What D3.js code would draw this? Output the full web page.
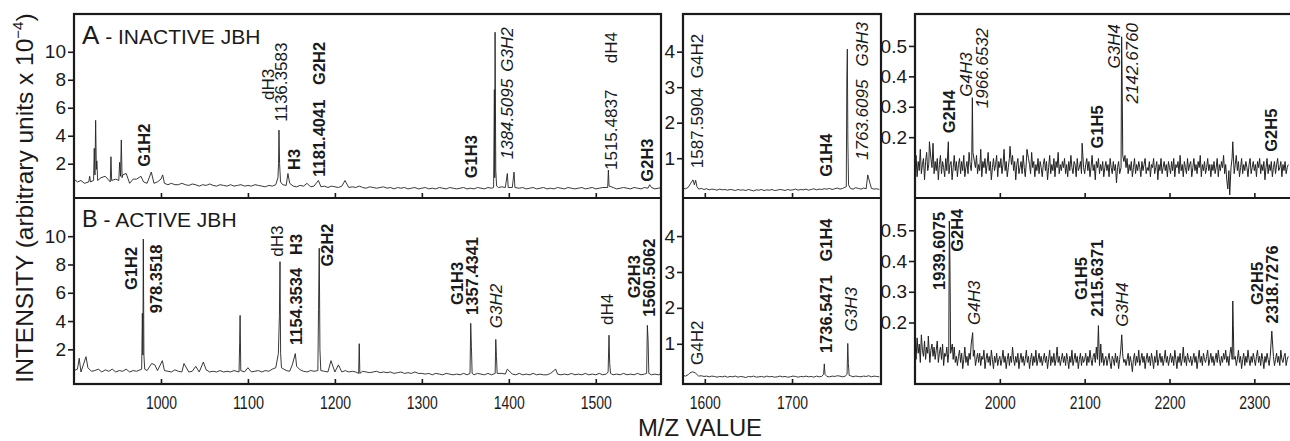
<!DOCTYPE html>
<html>
<head>
<meta charset="utf-8">
<script src="https://cdn.jsdelivr.net/npm/d3@7"></script>
<style>
  body { margin: 0; background: #fff; }
  svg { display: block; font-family: "Liberation Sans", Arial, sans-serif; }
</style>
</head>
<body>
<script>
// ---- data ----
// tick values
var mzTicksLeft = [1000, 1100, 1200, 1300, 1400, 1500];
var mzTicksMid = [1600, 1700];
var mzTicksRight = [2000, 2100, 2200, 2300];
var yTicksLeft = [2, 4, 6, 8, 10];
var yTicksMid = [1, 2, 3, 4];
var yTicksRight = [0.2, 0.3, 0.4, 0.5];

// baseline sampling grid (m/z start, step) for each m/z window
var leftStart = 900, leftStep = 4;
var midStart = 1575, midStep = 3;
var rightStart = 1900, rightStep = 1.25;

// baseline (noise) intensities, panel A - inactive
var inactiveLeftBase = [
  0.9, 0.7, 0.8, 0.6, 0.8, 1.0, 0.7, 0.8, 0.9, 0.6,
  0.8, 0.7, 0.9, 0.7, 0.6, 0.8, 0.6, 0.7, 0.9, 0.6,
  0.7, 0.6, 0.8, 0.6, 0.7, 0.9, 0.6, 0.5, 0.6, 0.5,
  0.5, 0.6, 0.5, 0.45, 0.55, 0.5, 0.4, 0.5, 0.45, 0.55,
  0.45, 0.4, 0.5, 0.45, 0.4, 0.5, 0.4, 0.45, 0.5, 0.4,
  0.45, 0.4, 0.5, 0.45, 0.4, 0.35, 0.45, 0.4, 0.5, 0.6,
  0.5, 0.45, 0.6, 0.4, 0.35, 0.45, 0.4, 0.5, 0.35, 0.4,
  0.45, 0.35, 0.4, 0.3, 0.4, 0.35, 0.3, 0.4, 0.35, 0.3,
  0.35, 0.3, 0.4, 0.3, 0.25, 0.35, 0.3, 0.25, 0.3, 0.35,
  0.25, 0.3, 0.2, 0.3, 0.25, 0.3, 0.2, 0.25, 0.3, 0.2,
  0.25, 0.3, 0.2, 0.25, 0.2, 0.3, 0.25, 0.2, 0.3, 0.25,
  0.2, 0.25, 0.3, 0.2, 0.25, 0.2, 0.3, 0.25, 0.2, 0.3,
  0.25, 0.3, 0.3, 0.35, 0.3, 0.25, 0.3, 0.2, 0.25, 0.3,
  0.2, 0.25, 0.3, 0.2, 0.25, 0.3, 0.2, 0.25, 0.2, 0.3,
  0.25, 0.2, 0.3, 0.25, 0.2, 0.25, 0.3, 0.2, 0.25, 0.3,
  0.2, 0.25, 0.3, 0.2, 0.25, 0.3, 0.2, 0.25, 0.3, 0.25,
  0.2, 0.3, 0.25, 0.2, 0.3, 0.25, 0.3, 0.2, 0.25, 0.3
];
var inactiveMidBase = [
  .16, .14, .18, .20, .17, .15, .13, .15, .12, .14,
  .11, .13, .12, .10, .13, .11, .12, .10, .12, .11,
  .09, .12, .10, .11, .09, .12, .10, .08, .11, .10,
  .12, .09, .11, .10, .12, .09, .10, .12, .11, .09,
  .12, .10, .11, .13, .10, .12, .11, .13, .10, .12,
  .14, .11, .13, .12, .14, .13, .15, .12, .14, .16,
  .13, .15, .14, .16, .15, .13, .17, .15, .13, .16,
  .14, .12, .15, .13, .14, .12
];
var inactiveRightBase = [
  .10, .14, .07, .12, .09, .16, .08, .11, .13, .06, .12, .15, .09, .11, .07, .13, .10, .18, .08, .12,
  .09, .13, .06, .11, .14, .08, .12, .10, .07, .13, .09, .15, .08, .11, .12, .06, .10, .14, .09, .12,
  .07, .11, .13, .08, .12, .09, .14, .07, .10, .12, .08, .15, .11, .09, .13, .07, .12, .10, .14, .08,
  .11, .09, .16, .07, .12, .10, .13, .08, .11, .15, .09, .12, .06, .10, .13, .09, .11, .14, .07, .12,
  .10, .13, .08, .11, .16, .09, .12, .07, .10, .13, .08, .11, .14, .09, .12, .06, .11, .13, .08, .10,
  .12, .08, .14, .10, .07, .12, .09, .13, .11, .08, .15, .10, .12, .07, .11, .09, .13, .08, .12, .10,
  .07, .11, .13, .09, .12, .06, .10, .14, .08, .11, .09, .13, .07, .12, .10, .15, .08, .11, .09, .12,
  .10, .13, .08, .11, .07, .12, .09, .14, .10, .08, .12, .11, .07, .13, .09, .10, .12, .08, .14, .10,
  .08, .11, .13, .09, .12, .07, .10, .14, .09, .11, .06, .12, .10, .13, .08, .11, .09, .12, .07, .10,
  .12, .09, .11, .07, .13, .10, .08, .12, .09, .11, .05, .10, .12, .08, .11, .13, .09, .12, .14, .10,
  .13, .08, .11, .09, .12, .07, .10, .13, .08, .11, .09, .12, .10, .07, .12, .09, .11, .13, .08, .10,
  .09, .12, .07, .11, .10, .13, .08, .10, .12, .06, .11, .09, .13, .08, .10, .12, .09, .11, .07, .12,
  .10, .08, .12, .09, .13, .07, .11, .10, .12, .08, .14, .09, .11, .07, .12, .10, .08, .13, .09, .11,
  .12, .07, .10, .13, .09, .11, .08, .12, .10, .14, .07, .11, .09, .12, .08, .10, .13, .09, .11, .07,
  .11, .09, .12, .08, .10, .13, .07, .11, .09, .12, .10, .14, .08, .11, .06, .03, .09, .12, .10, .13,
  .12, .08, .11, .14, .09, .12, .07, .10, .13, .08, .11, .09, .12, .10, .07, .11, .13, .08, .10, .12,
  .09, .11, .07, .12, .10, .13, .08, .11, .09, .12, .06, .10, .13, .08, .11, .09, .12, .07, .10, .12,
  .08, .11, .13, .09, .10, .12, .07, .11, .09, .12, .08, .10, .11
];

// baseline (noise) intensities, panel B - active
var activeLeftBase = [
  0.5, 0.6, 0.4, 0.5, 0.7, 0.45, 0.5, 0.6, 0.4, 0.55,
  0.45, 0.6, 0.4, 0.5, 0.45, 0.6, 0.4, 0.5, 0.45, 0.55,
  0.4, 0.5, 0.45, 0.6, 0.5, 0.4, 0.5, 0.45, 0.4, 0.55,
  0.45, 0.4, 0.5, 0.4, 0.45, 0.5, 0.4, 0.45, 0.55, 0.4,
  0.45, 0.4, 0.5, 0.4, 0.45, 0.4, 0.5, 0.4, 0.45, 0.4,
  0.5, 0.4, 0.45, 0.5, 0.4, 0.5, 0.45, 0.6, 0.7, 0.8,
  0.6, 0.5, 0.45, 0.5, 0.4, 0.55, 0.45, 0.4, 0.5, 0.45,
  0.4, 0.5, 0.45, 0.4, 0.5, 0.4, 0.45, 0.4, 0.5, 0.4,
  0.45, 0.4, 0.35, 0.45, 0.4, 0.35, 0.4, 0.45, 0.35, 0.4,
  0.35, 0.4, 0.3, 0.35, 0.4, 0.3, 0.35, 0.3, 0.4, 0.3,
  0.3, 0.25, 0.3, 0.2, 0.3, 0.25, 0.2, 0.3, 0.25, 0.2,
  0.25, 0.2, 0.3, 0.2, 0.25, 0.2, 0.3, 0.25, 0.2, 0.3,
  0.2, 0.25, 0.2, 0.3, 0.25, 0.2, 0.25, 0.2, 0.3, 0.2,
  0.25, 0.2, 0.3, 0.2, 0.25, 0.2, 0.2, 0.3, 0.2, 0.25,
  0.2, 0.25, 0.2, 0.3, 0.2, 0.25, 0.2, 0.3, 0.2, 0.25,
  0.2, 0.3, 0.2, 0.25, 0.3, 0.2, 0.25, 0.2, 0.3, 0.2,
  0.25, 0.2, 0.3, 0.2, 0.25, 0.3, 0.2, 0.25, 0.2, 0.3
];
var activeMidBase = [
  .12, .10, .14, .13, .11, .12, .10, .11, .09, .10,
  .08, .10, .09, .07, .09, .08, .10, .07, .09, .08,
  .10, .07, .09, .08, .06, .09, .08, .10, .07, .08,
  .09, .07, .10, .08, .09, .07, .08, .10, .08, .09,
  .07, .08, .10, .09, .07, .09, .08, .10, .08, .09,
  .07, .10, .08, .09, .11, .09, .08, .10, .09, .11,
  .10, .08, .10, .09, .11, .08, .10, .09, .08, .10,
  .09, .11, .08, .10, .09, .08
];
var activeRightBase = [
  .12, .08, .15, .10, .13, .07, .16, .11, .09, .14, .08, .12, .10, .15, .07, .11, .13, .09, .12, .08,
  .11, .14, .07, .10, .12, .08, .13, .06, .10, .09, .12, .07, .09, .11, .06, .10, .08, .12, .07, .09,
  .06, .09, .11, .07, .10, .05, .08, .12, .07, .09, .06, .10, .08, .13, .07, .09, .11, .06, .08, .10,
  .07, .10, .06, .09, .08, .11, .05, .08, .10, .07, .09, .06, .11, .08, .05, .09, .07, .10, .06, .08,
  .09, .06, .08, .11, .07, .09, .05, .08, .10, .06, .09, .07, .12, .08, .06, .09, .07, .10, .05, .08,
  .10, .07, .09, .06, .08, .11, .07, .09, .05, .08, .10, .06, .09, .07, .11, .06, .08, .10, .07, .09,
  .06, .08, .10, .07, .09, .05, .08, .11, .06, .09, .07, .10, .06, .08, .12, .07, .09, .06, .08, .10,
  .07, .09, .06, .10, .08, .05, .09, .07, .11, .06, .08, .10, .07, .09, .05, .08, .10, .06, .09, .07,
  .08, .10, .06, .09, .07, .11, .08, .06, .09, .10, .07, .12, .08, .10, .06, .09, .07, .10, .06, .08,
  .09, .06, .08, .10, .07, .05, .09, .08, .06, .10, .07, .09, .05, .08, .11, .06, .09, .07, .08, .06,
  .08, .10, .06, .09, .07, .04, .08, .10, .06, .09, .07, .11, .06, .08, .10, .07, .09, .05, .08, .10,
  .07, .09, .06, .10, .08, .05, .09, .07, .11, .06, .08, .10, .07, .09, .06, .08, .11, .07, .09, .06,
  .08, .10, .07, .09, .06, .11, .08, .05, .09, .07, .10, .06, .08, .12, .07, .09, .06, .10, .08, .07,
  .09, .06, .08, .10, .07, .09, .05, .08, .11, .07, .09, .06, .10, .08, .07, .09, .11, .06, .08, .10,
  .07, .09, .06, .08, .10, .07, .11, .08, .06, .09, .07, .10, .08, .11, .07, .09, .06, .10, .12, .08,
  .10, .07, .09, .06, .08, .11, .07, .09, .05, .08, .10, .06, .09, .07, .11, .08, .06, .09, .07, .10,
  .08, .06, .09, .11, .07, .09, .06, .10, .08, .05, .09, .07, .10, .08, .06, .09, .11, .07, .09, .06,
  .08, .10, .07, .09, .06, .11, .08, .07, .09, .10, .06, .08, .09
];

// peak points [m/z, intensity]
var inactiveLeftPeaks = [
  [917, 0.7], [918, 1.1], [919, 0.7],
  [922.5, 0.8], [923.3, 3.1], [924.1, 1.2], [924.9, 5.1], [925.7, 1.6], [926.3, 2.2], [927.2, 0.8],
  [931, 1.0], [936, 1.1],
  [941.7, 0.7], [942.5, 2.5], [943.3, 0.8],
  [951.5, 0.8], [952.5, 2.1], [953.5, 1.1], [954.4, 3.7], [955.3, 1.0], [956, 1.2],
  [960, 1.3], [968, 0.9], [977, 1.1], [988.9, 1.4], [1002, 1.2],
  [1134.5, 1.0], [1135.2, 2.0], [1135.7, 4.4], [1136.4, 2.0], [1137.5, 0.7],
  [1146, 1.3], [1168, 0.6], [1181, 0.8], [1211.6, 0.8],
  [1382.5, 0.3], [1383.4, 7.3], [1383.8, 1.0], [1384.2, 11.4], [1385, 1.5], [1386, 0.4],
  [1398.3, 1.3], [1399.3, 0.3], [1406, 1.4], [1407, 0.3],
  [1513.7, 0.3], [1514.5, 1.55], [1515.3, 0.4],
  [1562, 0.5]
];
var inactiveMidPeaks = [
  [1584, 0.3], [1586.5, 0.39], [1588, 0.25], [1589.5, 0.38], [1591, 0.2],
  [1762.2, 0.2], [1762.8, 3.2], [1763.4, 4.07], [1764, 1.5], [1764.8, 0.25],
  [1786.8, 0.53]
];
var inactiveRightPeaks = [
  [1917, 0.185], [1939.3, 0.185],
  [1966.9, 0.12], [1967.6, 0.33], [1968.3, 0.15],
  [2012, 0.17], [2032, 0.16], [2097, 0.18],
  [2142.9, 0.1], [2143.6, 0.53], [2144.1, 0.40], [2144.9, 0.14],
  [2271, 0.01], [2274.6, 0.185]
];
var activeLeftPeaks = [
  [906, 1.37], [913.8, 1.48],
  [977.8, 0.6], [978.6, 4.55], [979.2, 1.6], [979.7, 9.8], [980.4, 1.6], [981.3, 0.6],
  [989.3, 1.0], [993, 0.9], [1001.6, 1.2], [1026.5, 1.0], [1040, 0.8], [1048.7, 1.1],
  [1089.8, 0.4], [1090.5, 2.5], [1091, 4.4], [1091.8, 0.5], [1100, 0.7],
  [1135, 1.7], [1136.2, 4.4], [1136.9, 8.2], [1137.6, 1.7], [1138.6, 0.7],
  [1151, 0.9], [1154.5, 1.7], [1156, 0.8],
  [1180.4, 0.5], [1181.2, 4.8], [1182, 9.15], [1182.8, 2.0], [1183.8, 0.5],
  [1195.5, 1.2], [1204, 0.9],
  [1227.3, 0.3], [1228, 2.4], [1228.7, 0.3],
  [1355.4, 0.3], [1356.2, 3.84], [1357, 2.2], [1357.8, 0.3],
  [1384.3, 0.3], [1385, 2.7], [1385.8, 1.5], [1386.6, 0.3],
  [1398.3, 0.6], [1453.9, 0.6],
  [1514.2, 0.4], [1515.2, 3.0], [1516, 1.0], [1517, 0.3],
  [1558.5, 0.3], [1559.3, 3.7], [1560.2, 2.6], [1561, 0.3]
];
var activeMidPeaks = [
  [1583, 0.19], [1586, 0.22], [1589, 0.19],
  [1736.2, 0.15], [1737, 0.44], [1737.8, 0.15],
  [1763.1, 0.15], [1763.9, 1.01], [1764.6, 0.45], [1765.5, 0.12]
];
var activeRightPeaks = [
  [1915.7, 0.156],
  [1939.8, 0.1], [1940.5, 0.53], [1941.2, 0.39], [1942, 0.1], [1944, 0.13],
  [1968, 0.167], [2116.2, 0.19], [2119, 0.13], [2143.7, 0.16],
  [2273.9, 0.08], [2274.6, 0.27], [2275.2, 0.19], [2276, 0.08],
  [2320.6, 0.172], [2321.2, 0.146]
];

// peak annotations: [window, m/z, intensity at text start, text, style]
var inactiveLabels = [
  ['left', 987.4, 1.79, 'G1H2', 'b'],
  ['left', 1130.0, 6.55, 'dH3', 'r'],
  ['left', 1144.9, 5.00, '1136.3583', 'r'],
  ['left', 1159.9, 1.55, 'H3', 'b'],
  ['left', 1188.6, 1.07, '1181.4041', 'b'],
  ['left', 1188.6, 7.63, 'G2H2', 'b'],
  ['left', 1363.4, 0.96, 'G1H3', 'b'],
  ['left', 1405.2, 2.32, '1384.5095', 'i'],
  ['left', 1405.2, 8.58, 'G3H2', 'i'],
  ['left', 1524.1, 1.55, '1515.4837', 'r'],
  ['left', 1524.1, 9.18, 'dH4', 'r'],
  ['left', 1566.2, 0.72, 'G2H3', 'b'],
  ['mid', 1598.3, 0.72, '1587.5904', 'r'],
  ['mid', 1598.3, 3.25, 'G4H2', 'r'],
  ['mid', 1745.5, 0.48, 'G1H4', 'b'],
  ['mid', 1787.4, 0.95, '1763.6095', 'i'],
  ['mid', 1787.4, 3.58, 'G3H3', 'i'],
  ['right', 1947.1, 0.213, 'G2H4', 'b'],
  ['right', 1966.8, 0.333, 'G4H3', 'i'],
  ['right', 1986.4, 0.295, '1966.6532', 'i'],
  ['right', 2121.9, 0.163, 'G1H5', 'b'],
  ['right', 2141.6, 0.426, 'G3H4', 'i'],
  ['right', 2163.2, 0.311, '2142.6760', 'i'],
  ['right', 2326.3, 0.152, 'G2H5', 'b']
];
var activeLabels = [
  ['left', 972.8, 6.20, 'G1H2', 'b'],
  ['left', 1000.8, 4.55, '978.3518', 'b'],
  ['left', 1140.7, 8.55, 'dH3', 'r'],
  ['left', 1161.8, 8.67, 'H3', 'b'],
  ['left', 1161.8, 2.31, '1154.3534', 'b'],
  ['left', 1198.2, 7.85, 'G2H2', 'b'],
  ['left', 1347.7, 5.14, 'G1H3', 'b'],
  ['left', 1364.9, 4.43, '1357.4341', 'b'],
  ['left', 1391.8, 3.49, 'G3H2', 'i'],
  ['left', 1520.1, 3.72, 'dH4', 'r'],
  ['left', 1550.9, 5.61, 'G2H3', 'b'],
  ['left', 1568.1, 4.31, '1560.5062', 'b'],
  ['mid', 1598.3, 0.41, 'G4H2', 'r'],
  ['mid', 1745.5, 0.74, '1736.5471', 'b'],
  ['mid', 1745.5, 3.29, 'G1H4', 'b'],
  ['mid', 1774.1, 1.34, 'G3H3', 'i'],
  ['right', 1935.4, 0.306, '1939.6075', 'b'],
  ['right', 1956.9, 0.430, 'G2H4', 'b'],
  ['right', 1976.6, 0.192, 'G4H3', 'i'],
  ['right', 2102.4, 0.273, 'G1H5', 'b'],
  ['right', 2121.9, 0.219, '2115.6371', 'b'],
  ['right', 2151.4, 0.186, 'G3H4', 'i'],
  ['right', 2310.5, 0.257, 'G2H5', 'b'],
  ['right', 2328.2, 0.197, '2318.7276', 'b']
];

// ---- layout ----
var width = 1290, height = 441;
var ink = '#1a1a1a';

var rows = {
  inactive: {top: 14, bottom: 198, title: 'A', sub: ' - INACTIVE JBH', big: 26, small: 21, labels: inactiveLabels},
  active: {top: 198, bottom: 384, title: 'B', sub: ' - ACTIVE JBH', big: 23.5, small: 21, labels: activeLabels}
};
var cols = {
  left: {x0: 74, x1: 661, domain: [900, 1575], yDomain: [-0.45, 12.7], xTicks: mzTicksLeft, yTicks: yTicksLeft},
  mid: {x0: 683, x1: 881, domain: [1575, 1802], yDomain: [-0.12, 5.06], xTicks: mzTicksMid, yTicks: yTicksMid},
  right: {x0: 915, x1: 1292, domain: [1900, 2344.4], yDomain: [0, 0.605], xTicks: mzTicksRight, yTicks: yTicksRight}
};

var spectra = [
  {row: 'inactive', col: 'left', base: inactiveLeftBase, start: leftStart, step: leftStep, peaks: inactiveLeftPeaks},
  {row: 'inactive', col: 'mid', base: inactiveMidBase, start: midStart, step: midStep, peaks: inactiveMidPeaks},
  {row: 'inactive', col: 'right', base: inactiveRightBase, start: rightStart, step: rightStep, peaks: inactiveRightPeaks},
  {row: 'active', col: 'left', base: activeLeftBase, start: leftStart, step: leftStep, peaks: activeLeftPeaks},
  {row: 'active', col: 'mid', base: activeMidBase, start: midStart, step: midStep, peaks: activeMidPeaks},
  {row: 'active', col: 'right', base: activeRightBase, start: rightStart, step: rightStep, peaks: activeRightPeaks}
];

var svg = d3.select('body').append('svg')
    .attr('width', width)
    .attr('height', height);

var defs = svg.append('defs');

function xScale(c) {
  return d3.scaleLinear().domain(cols[c].domain).range([cols[c].x0, cols[c].x1]);
}
function yScale(r, c) {
  return d3.scaleLinear().domain(cols[c].yDomain).range([rows[r].bottom, rows[r].top]);
}

// merge baseline samples with peak points (peaks replace nearby samples)
function buildTrace(s) {
  var pts = s.base.map(function(v, i) { return [s.start + i * s.step, v]; })
    .filter(function(p) {
      return !s.peaks.some(function(q) { return Math.abs(q[0] - p[0]) < s.step / 2; });
    });
  return pts.concat(s.peaks).sort(function(a, b) { return a[0] - b[0]; });
}

// spectra traces
spectra.forEach(function(s, i) {
  var x = xScale(s.col), y = yScale(s.row, s.col);
  var c = cols[s.col], r = rows[s.row];
  defs.append('clipPath').attr('id', 'clip' + i)
    .append('rect')
      .attr('x', c.x0).attr('y', r.top)
      .attr('width', c.x1 - c.x0).attr('height', r.bottom - r.top);
  var line = d3.line()
      .x(function(d) { return x(d[0]); })
      .y(function(d) { return y(d[1]); });
  svg.append('path')
      .datum(buildTrace(s))
      .attr('clip-path', 'url(#clip' + i + ')')
      .attr('fill', 'none')
      .attr('stroke', '#222')
      .attr('stroke-width', s.col === 'right' ? 1 : 0.9)
      .attr('stroke-linejoin', 'round')
      .attr('d', line);
});

// axes
Object.keys(rows).forEach(function(rk) {
  Object.keys(cols).forEach(function(ck) {
    var c = cols[ck], r = rows[rk];
    var x = xScale(ck), y = yScale(rk, ck);

    var yAxis = d3.axisLeft(y)
        .tickValues(c.yTicks)
        .tickSize(6)
        .tickPadding(2)
        .tickFormat(d3.format('~g'));
    var gy = svg.append('g')
        .attr('transform', 'translate(' + c.x0 + ',0)')
        .call(yAxis);
    gy.select('.domain').remove();
    gy.selectAll('line').attr('stroke', ink).attr('stroke-width', 1.6);
    gy.selectAll('text').attr('fill', ink).style('font-size', '19px');

    var xAxis = d3.axisBottom(x)
        .tickValues(c.xTicks)
        .tickSizeInner(-5)
        .tickSizeOuter(0)
        .tickPadding(12)
        .tickFormat(d3.format('d'));
    if (rk === 'inactive') xAxis.tickFormat('');
    var gx = svg.append('g')
        .attr('transform', 'translate(0,' + r.bottom + ')')
        .call(xAxis);
    gx.select('.domain').remove();
    gx.selectAll('line').attr('stroke', ink).attr('stroke-width', 1.6);
    // condensed look of the original tick labels
    gx.selectAll('text')
        .attr('fill', ink)
        .attr('textLength', 31)
        .attr('lengthAdjust', 'spacingAndGlyphs')
        .style('font-size', '18px');
  });
});

// panel frames
Object.keys(cols).forEach(function(ck) {
  var c = cols[ck];
  svg.append('rect')
      .attr('x', c.x0).attr('y', rows.inactive.top)
      .attr('width', c.x1 - c.x0)
      .attr('height', rows.active.bottom - rows.inactive.top)
      .attr('fill', 'none')
      .attr('stroke', ink)
      .attr('stroke-width', 2.2);
  svg.append('line')
      .attr('x1', c.x0).attr('x2', c.x1)
      .attr('y1', rows.inactive.bottom).attr('y2', rows.inactive.bottom)
      .attr('stroke', ink)
      .attr('stroke-width', 2.2);
});

// peak labels, rotated
Object.keys(rows).forEach(function(rk) {
  var r = rows[rk];
  svg.append('g').selectAll('text')
      .data(r.labels)
      .join('text')
      .attr('transform', function(d) {
        var x = xScale(d[0]), y = yScale(rk, d[0]);
        return 'translate(' + x(d[1]) + ',' + y(d[2]) + ') rotate(-90)';
      })
      .attr('fill', ink)
      .style('font-size', function(d) { return d[4] === 'b' ? '16.5px' : '17px'; })
      .style('font-weight', function(d) { return d[4] === 'b' ? 'bold' : 'normal'; })
      .style('font-style', function(d) { return d[4] === 'i' ? 'italic' : 'normal'; })
      .text(function(d) { return d[3]; });

  // panel titles
  var t = svg.append('text')
      .attr('x', 82)
      .attr('y', r.top + (rk === 'inactive' ? 30 : 28.5))
      .attr('fill', ink);
  t.append('tspan').style('font-size', r.big + 'px').text(r.title);
  t.append('tspan').style('font-size', r.small + 'px').text(r.sub);
});

// axis titles
var yTitle = svg.append('text')
    .attr('transform', 'translate(33,198) rotate(-90)')
    .attr('text-anchor', 'middle')
    .attr('fill', ink)
    .style('font-size', '24.5px');
yTitle.append('tspan').text('INTENSITY (arbitrary units x 10');
yTitle.append('tspan').attr('dy', -10).style('font-size', '15px').text('\u22124');
yTitle.append('tspan').attr('dy', 10).text(')');

svg.append('text')
    .attr('x', 700)
    .attr('y', 436)
    .attr('text-anchor', 'middle')
    .attr('fill', ink)
    .attr('textLength', 124)
    .attr('lengthAdjust', 'spacingAndGlyphs')
    .style('font-size', '23px')
    .text('M/Z VALUE');
</script>
</body>
</html>
